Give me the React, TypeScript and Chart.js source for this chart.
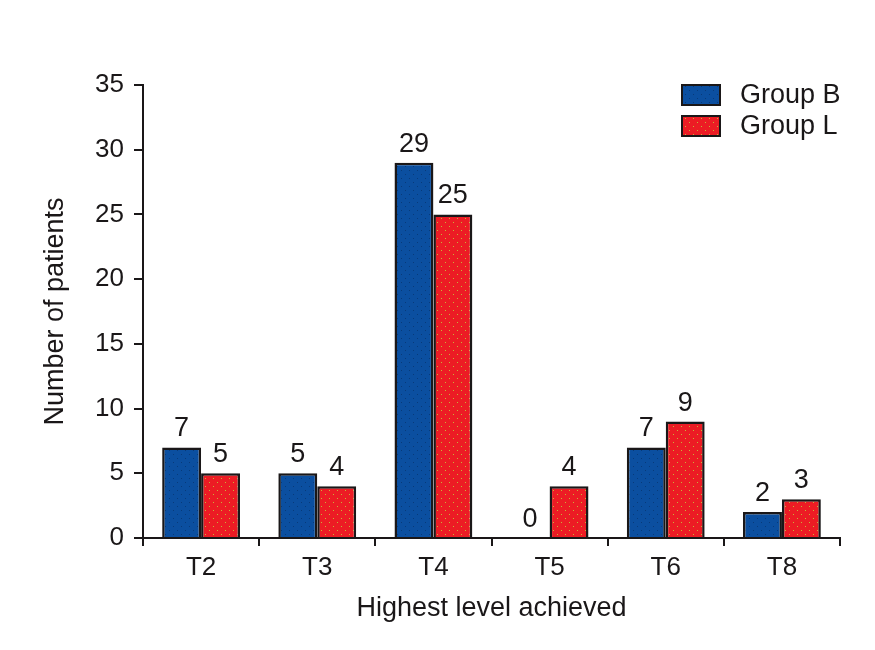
import React, { useEffect, useRef } from "react";
import { Chart, registerables } from "chart.js";

Chart.register(...registerables);

const categories = ["T2", "T3", "T4", "T5", "T6", "T8"];
const groupB = [7, 5, 29, 0, 7, 2];
const groupL = [5, 4, 25, 4, 9, 3];
const seriesNames = ["Group B", "Group L"];
const yTicks = { min: 0, max: 35, step: 5 };
const xTitle = "Highest level achieved";
const yTitle = "Number of patients";

const BLUE = "#0b4fa0";
const RED = "#ec1c24";
const INK = "#1a1718";
const FONT = "'Liberation Sans', Arial, Helvetica, sans-serif";

function makePattern(base: string, dot: string): CanvasPattern | string {
  const c = document.createElement("canvas");
  c.width = 8;
  c.height = 8;
  const g = c.getContext("2d");
  if (!g) return base;
  g.fillStyle = base;
  g.fillRect(0, 0, 8, 8);
  g.fillStyle = dot;
  g.fillRect(1, 2, 1, 1);
  g.fillRect(5, 6, 1, 1);
  const p = g.createPattern(c, "repeat");
  return p || base;
}

const valueLabels = {
  id: "valueLabels",
  afterDatasetsDraw(chart: any) {
    const ctx = chart.ctx;
    ctx.save();
    ctx.font = `27px ${FONT}`;
    ctx.fillStyle = INK;
    ctx.textAlign = "center";
    ctx.textBaseline = "alphabetic";
    chart.data.datasets.forEach((ds: any, i: number) => {
      const meta = chart.getDatasetMeta(i);
      meta.data.forEach((el: any, j: number) => {
        ctx.fillText(String(ds.data[j]), el.x, el.y - 11);
      });
    });
    ctx.restore();
  },
};

const boxLegend = {
  id: "boxLegend",
  afterDraw(chart: any) {
    const ctx = chart.ctx;
    const area = chart.chartArea;
    const x0 = area.right - 158;
    const y0 = area.top;
    ctx.save();
    chart.data.datasets.forEach((ds: any, i: number) => {
      const y = y0 + i * 31;
      ctx.fillStyle = ds.backgroundColor;
      ctx.fillRect(x0, y, 38, 20);
      ctx.lineWidth = 2;
      ctx.strokeStyle = INK;
      ctx.strokeRect(x0, y, 38, 20);
      ctx.fillStyle = INK;
      ctx.font = `27px ${FONT}`;
      ctx.textAlign = "left";
      ctx.textBaseline = "middle";
      ctx.fillText(ds.label, x0 + 58, y + 11);
    });
    ctx.restore();
  },
};

export default function App() {
  const ref = useRef<HTMLCanvasElement>(null);
  useEffect(() => {
    document.body.style.margin = "0";
    const canvas = ref.current;
    if (!canvas) return;
    const blue = makePattern(BLUE, "#073a7a");
    const red = makePattern(RED, "#c9b13a");
    const chart = new Chart(canvas, {
      type: "bar",
      data: {
        labels: categories,
        datasets: [
          {
            label: seriesNames[0],
            data: groupB,
            backgroundColor: blue as any,
            borderColor: INK,
            borderWidth: 2.5,
            barPercentage: 1,
            categoryPercentage: 0.67,
          },
          {
            label: seriesNames[1],
            data: groupL,
            backgroundColor: red as any,
            borderColor: INK,
            borderWidth: 2.5,
            barPercentage: 1,
            categoryPercentage: 0.67,
          },
        ],
      },
      options: {
        responsive: false,
        animation: false,
        layout: { padding: { left: 0, right: 35, top: 85, bottom: 0 } },
        plugins: {
          legend: { display: false },
          tooltip: { enabled: false },
        },
        scales: {
          x: {
            afterFit: (s: any) => {
              s.height = 112;
            },
            grid: {
              drawOnChartArea: false,
              drawTicks: true,
              tickLength: 8,
              color: INK,
              lineWidth: 2,
              offset: true,
            },
            border: { color: INK, width: 2 },
            ticks: {
              color: INK,
              font: { family: FONT, size: 26 },
              padding: 6,
            },
            title: {
              display: true,
              text: xTitle,
              color: INK,
              font: { family: FONT, size: 27 },
              padding: { top: 0, bottom: 25 },
            },
          },
          y: {
            min: yTicks.min,
            max: yTicks.max,
            afterFit: (s: any) => {
              s.width = 143;
            },
            grid: {
              drawOnChartArea: false,
              drawTicks: true,
              tickLength: 9,
              color: INK,
              lineWidth: 2,
            },
            border: { color: INK, width: 2 },
            ticks: {
              stepSize: yTicks.step,
              color: INK,
              font: { family: FONT, size: 26 },
              padding: 10,
            },
            title: {
              display: true,
              text: yTitle,
              color: INK,
              font: { family: FONT, size: 27 },
              padding: { top: 39, bottom: 0 },
            },
          },
        },
      },
      plugins: [valueLabels, boxLegend],
    });
    return () => chart.destroy();
  }, []);
  return (
    <div style={{ position: "fixed", left: 0, top: 0, width: 875, height: 650, background: "#fff" }}>
      <canvas ref={ref} width={875} height={650} />
    </div>
  );
}
